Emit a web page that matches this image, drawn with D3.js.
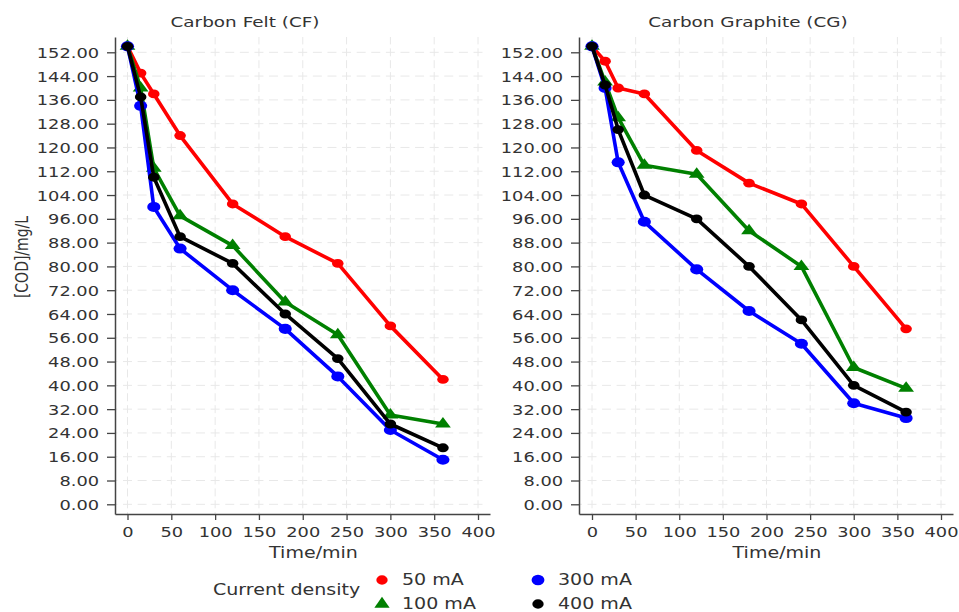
<!DOCTYPE html>
<html>
<head>
<meta charset="utf-8">
<script src="https://cdn.jsdelivr.net/npm/d3@7"></script>
<style>
  html, body { margin: 0; padding: 0; background: #fff; }
  svg { display: block; }
  text { font-family: "DejaVu Sans", Verdana, sans-serif; fill: #333; }
</style>
</head>
<body>
<svg id="chart" width="959" height="612"></svg>
<script>
// Sampling times (min)
const times = [0, 15, 30, 60, 120, 180, 240, 300, 360];

// Legend entries
const seriesNames = ["50 mA", "100 mA", "300 mA", "400 mA"];
const seriesColors = ["#ff0000", "#008000", "#0000ff", "#000000"];
const seriesShapes = ["circle", "triangle", "circle", "circle"];

// Carbon Felt (CF) — [COD] in mg/L
const cf50  = [154, 145, 138, 124, 101, 90, 81, 60, 42];
const cf100 = [154, 140, 113, 97, 87, 68, 57, 30, 27];
const cf300 = [154, 134, 100, 86, 72, 59, 43, 25, 15];
const cf400 = [154, 137, 110, 90, 81, 64, 49, 27, 19];

// Carbon Graphite (CG) — [COD] in mg/L
const cg50  = [154, 149, 140, 138, 119, 108, 101, 80, 59];
const cg100 = [154, 142, 130, 114, 111, 92, 80, 46, 39];
const cg300 = [154, 140, 115, 95, 79, 65, 54, 34, 29];
const cg400 = [154, 141, 126, 104, 96, 80, 62, 40, 31];

// Axis ticks
const xTicks = [0, 50, 100, 150, 200, 250, 300, 350, 400];
const yTicks = d3.range(0, 153, 8);

const panelTitles = ["Carbon Felt (CF)", "Carbon Graphite (CG)"];
const panelData = [[cf50, cf100, cf300, cf400], [cg50, cg100, cg300, cg400]];

const SX = 1.27;            // horizontal widening of the lettering
const svg = d3.select("#chart");
const fmt = d3.format(".2f");

const panels = [
  { left: 115, right: 490, x0: 127.5, x400: 478, titleX: 245 },
  { left: 579, right: 953, x0: 592, x400: 941, titleX: 748 }
];
const plotTop = 37, plotBottom = 514;
const yPx0 = 504.3, yPx152 = 52.3;

function dashOffset(start, first, dash, period) {
  const d = dash / 2 - (first - start);
  return ((d % period) + period) % period;
}

panels.forEach((p, pi) => {
  // Linear scales spanning the full axis extent
  const kx = (p.x400 - p.x0) / 400;
  const x = d3.scaleLinear()
    .domain([(p.left - p.x0) / kx, (p.right - p.x0) / kx])
    .range([p.left, p.right]);
  const ky = (yPx0 - yPx152) / 152;
  const y = d3.scaleLinear()
    .domain([(yPx0 - plotBottom) / ky, (yPx0 - plotTop) / ky])
    .range([plotBottom, plotTop]);

  const g = svg.append("g");

  // Grid
  const xStep = x(50) - x(0), yStep = y(0) - y(8);
  const gridRight = x(400) + 5;
  const hPeriod = xStep / 3, hDash = 9;
  const vPeriod = yStep / 2, vDash = 8;
  g.append("g").selectAll("line").data(yTicks).join("line")
    .attr("x1", p.left).attr("x2", gridRight)
    .attr("y1", d => y(d)).attr("y2", d => y(d))
    .attr("stroke", "#e8e8e8").attr("stroke-width", 1)
    .attr("stroke-dasharray", `${hDash},${hPeriod - hDash}`)
    .attr("stroke-dashoffset", dashOffset(p.left, x(0), hDash, hPeriod));
  g.append("g").selectAll("line").data(xTicks).join("line")
    .attr("x1", d => x(d)).attr("x2", d => x(d))
    .attr("y1", plotTop).attr("y2", plotBottom)
    .attr("stroke", "#e8e8e8").attr("stroke-width", 1)
    .attr("stroke-dasharray", `${vDash},${vPeriod - vDash}`)
    .attr("stroke-dashoffset", dashOffset(plotTop, y(152), vDash, vPeriod));

  // Axes
  const yAxis = g.append("g")
    .attr("transform", `translate(${p.left},0)`)
    .call(d3.axisLeft(y).tickValues(yTicks).tickFormat(fmt).tickSize(8).tickSizeOuter(0));
  const xAxis = g.append("g")
    .attr("transform", `translate(0,${plotBottom})`)
    .call(d3.axisBottom(x).tickValues(xTicks).tickFormat(d3.format("d")).tickSize(6).tickSizeOuter(0));
  [yAxis, xAxis].forEach(a => {
    a.select(".domain").attr("stroke", "#444").attr("stroke-width", 1.5);
    a.selectAll(".tick line").attr("stroke", "#444").attr("stroke-width", 1.3);
    a.selectAll(".tick text").attr("font-family", "DejaVu Sans").attr("font-size", 14).attr("fill", "#3a3a3a");
  });
  yAxis.selectAll(".tick text")
    .attr("x", 0).attr("dy", "0.36em")
    .attr("transform", `translate(-16,0) scale(${SX},1)`);
  xAxis.selectAll(".tick text")
    .attr("y", 0).attr("dy", "0.36em")
    .attr("transform", `translate(0,18) scale(${SX},1)`);

  // Panel title and x-axis title
  g.append("text")
    .attr("transform", `translate(${p.titleX},22) scale(${SX},1)`)
    .attr("text-anchor", "middle").attr("dominant-baseline", "central")
    .attr("font-size", 14.5).attr("fill", "#444")
    .text(panelTitles[pi]);
  g.append("text")
    .attr("transform", `translate(${(p.left + p.right) / 2 + 11},553) scale(${SX},1)`)
    .attr("text-anchor", "middle").attr("dominant-baseline", "central")
    .attr("font-size", 15).attr("fill", "#444")
    .text("Time/min");

  // Series lines and markers
  const line = d3.line().x((d, i) => x(times[i])).y(d => y(d));
  panelData[pi].forEach((vals, si) => {
    const color = seriesColors[si];
    const sg = g.append("g");
    sg.append("path").datum(vals)
      .attr("d", line)
      .attr("fill", "none").attr("stroke", color)
      .attr("stroke-width", 3.6).attr("stroke-linejoin", "round");
    const sym = seriesShapes[si] === "triangle"
      ? d3.symbol(d3.symbolTriangle, 64)
      : d3.symbol(d3.symbolCircle, si === 2 ? 80 : 62);
    sg.selectAll("path.m").data(vals).join("path")
      .attr("class", "m")
      .attr("d", sym)
      .attr("transform", (d, i) => `translate(${x(times[i])},${y(d)}) scale(1.3,1)`)
      .attr("fill", color);
  });
});

// Shared y-axis title
svg.append("text")
  .attr("transform", `translate(22,257) scale(${SX},1) rotate(-90)`)
  .attr("text-anchor", "middle").attr("dominant-baseline", "central")
  .attr("font-size", 14).attr("fill", "#333")
  .text("[COD]/mg/L");

// Legend
const legend = svg.append("g");
legend.append("text")
  .attr("transform", `translate(213,590) scale(${SX},1)`)
  .attr("dominant-baseline", "central")
  .attr("font-size", 15).attr("fill", "#444")
  .text("Current density");
const legendPos = [[382, 580], [382, 604], [538, 580], [538, 604]];
seriesNames.forEach((name, i) => {
  const [lx, ly] = legendPos[i];
  const sym = seriesShapes[i] === "triangle"
    ? d3.symbol(d3.symbolTriangle, 70)
    : d3.symbol(d3.symbolCircle, i === 2 ? 90 : 70);
  legend.append("path")
    .attr("d", sym)
    .attr("transform", `translate(${lx},${ly}) scale(1.2,1)`)
    .attr("fill", seriesColors[i]);
  legend.append("text")
    .attr("transform", `translate(${lx + 20},${ly}) scale(${SX},1)`)
    .attr("dominant-baseline", "central")
    .attr("font-size", 15).attr("fill", "#333")
    .text(name);
});
</script>
</body>
</html>
